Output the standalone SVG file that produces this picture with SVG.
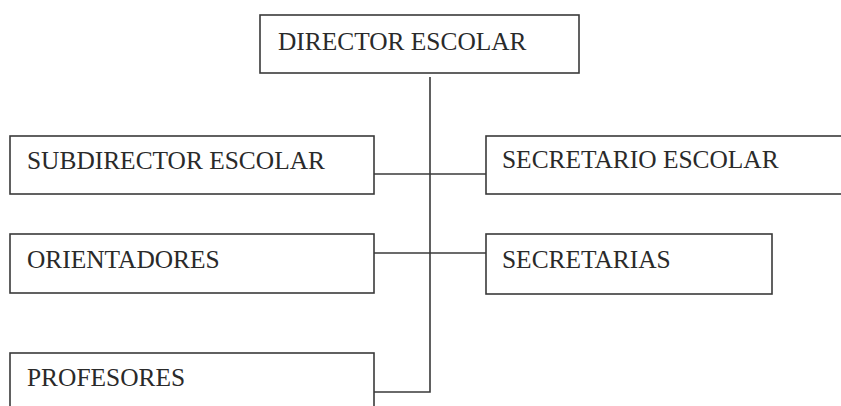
<svg xmlns="http://www.w3.org/2000/svg" width="841" height="406" viewBox="0 0 841 406">
  <style>
    .box { fill: #ffffff; stroke: #3a3a3a; stroke-width: 1.6; }
    .lbl { font-family: "Liberation Serif", "Times New Roman", serif; font-size: 25.4px; fill: #2a2a2a; }
    .wire { fill: none; stroke: #3a3a3a; stroke-width: 1.6; }
  </style>
  <rect width="841" height="406" fill="#ffffff"/>

  <g id="connectors">
    <path class="wire" d="M430 77 V392 H374"/>
    <path class="wire" d="M374 174 H486"/>
    <path class="wire" d="M374 253 H486"/>
  </g>

  <g id="director">
    <rect class="box" x="260" y="15" width="319" height="58"/>
    <text class="lbl" x="278" y="50">DIRECTOR ESCOLAR</text>
  </g>

  <g id="subdirector">
    <rect class="box" x="10" y="136" width="364" height="58"/>
    <text class="lbl" x="27" y="169">SUBDIRECTOR ESCOLAR</text>
  </g>

  <g id="secretario">
    <rect class="box" x="486" y="136" width="370" height="58"/>
    <text class="lbl" x="502" y="168">SECRETARIO ESCOLAR</text>
  </g>

  <g id="orientadores">
    <rect class="box" x="10" y="234" width="364" height="59"/>
    <text class="lbl" x="27" y="268">ORIENTADORES</text>
  </g>

  <g id="secretarias">
    <rect class="box" x="486" y="234" width="286" height="60"/>
    <text class="lbl" x="502" y="268">SECRETARIAS</text>
  </g>

  <g id="profesores">
    <rect class="box" x="10" y="353" width="364" height="70"/>
    <text class="lbl" x="27" y="386">PROFESORES</text>
  </g>
</svg>
